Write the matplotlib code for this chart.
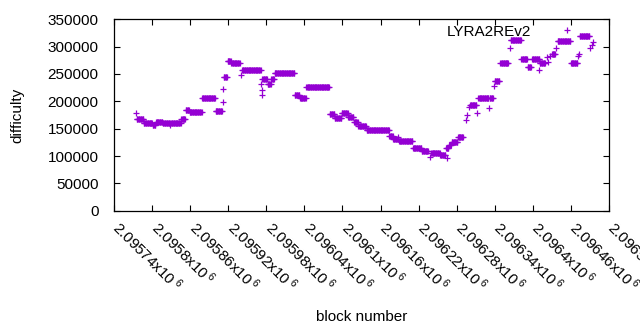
import numpy as np
import matplotlib
matplotlib.use("Agg")
import matplotlib.pyplot as plt
from matplotlib.transforms import ScaledTranslation

plt.rcParams['font.family'] = ['Liberation Sans', 'DejaVu Sans']
plt.rcParams['mathtext.default'] = 'regular'

# runs of constant difficulty: [start, end) block, difficulty
run_start = [2095776, 2095787, 2095801, 2095806, 2095817, 2095830, 2095846, 2095853,
             2095859, 2095879, 2095900, 2095913, 2095919, 2095925, 2095942, 2095974,
             2095982, 2095988, 2095993, 2096025, 2096033, 2096043, 2096080, 2096088,
             2096099, 2096109, 2096118, 2096125, 2096138, 2096174, 2096180, 2096189,
             2096211, 2096225, 2096240, 2096254, 2096263, 2096268, 2096272, 2096282,
             2096301, 2096314, 2096332, 2096340, 2096349, 2096365, 2096382, 2096392,
             2096399, 2096411, 2096430, 2096439, 2096460, 2096474]
run_end = [2095787, 2095801, 2095806, 2095817, 2095829, 2095846, 2095853, 2095859,
           2095879, 2095900, 2095911, 2095919, 2095925, 2095939, 2095972, 2095982,
           2095988, 2095993, 2096025, 2096033, 2096043, 2096080, 2096088, 2096099,
           2096109, 2096118, 2096125, 2096138, 2096174, 2096180, 2096189, 2096211,
           2096225, 2096236, 2096254, 2096263, 2096268, 2096272, 2096282, 2096291,
           2096312, 2096331, 2096338, 2096348, 2096362, 2096382, 2096392, 2096398,
           2096411, 2096420, 2096436, 2096460, 2096471, 2096490]
run_diff = [167000, 161000, 157000, 163000, 161000, 161000, 168000, 185000,
            181000, 206000, 182000, 245000, 274000, 270000, 257000, 241000,
            232000, 241000, 251000, 211000, 207000, 226000, 176000, 170000,
            178000, 172000, 163000, 154000, 148000, 136000, 131000, 127000,
            114000, 109000, 106000, 101000, 115000, 120000, 126000, 134000,
            193000, 207000, 206000, 238000, 271000, 312000, 278000, 263000,
            278000, 271000, 287000, 310000, 270000, 319000]

# isolated blocks
single_block = [2095775, 2095829, 2095911, 2095912, 2095940, 2095972, 2095973, 2095973,
                2096188, 2096238, 2096264, 2096294, 2096297, 2096300, 2096312, 2096331,
                2096339, 2096364, 2096410, 2096422, 2096424, 2096427, 2096437, 2096471,
                2096472, 2096490, 2096493, 2096495]
single_diff = [179000, 157000, 198000, 222000, 248000, 231000, 221000, 212000,
               135000, 99000, 96000, 165000, 175000, 190000, 179000, 187000,
               228000, 297000, 257000, 281000, 272000, 283000, 298000, 282000,
               286000, 297000, 303000, 308000]

xticks = np.arange(2095740, 2096521, 60)
yticks = np.arange(0, 350001, 50000)

blocks = np.concatenate([np.arange(s, e) for s, e in zip(run_start, run_end)] + [single_block])
diffs = np.concatenate([np.full(e - s, d) for s, e, d in zip(run_start, run_end, run_diff)] + [single_diff])

fig = plt.figure(figsize=(6.4, 3.3), dpi=100)
ax = fig.add_axes([114 / 640, 1 - 210.7 / 330, (609 - 114) / 640, (210.7 - 19.3) / 330])

ax.plot(blocks, diffs, '+', color='#9400D3', markersize=5, markeredgewidth=0.9,
        label='LYRA2REv2')

ax.set_xlim(2095740, 2096520)
ax.set_ylim(0, 350000)
ax.set_yticks(yticks)
ax.set_yticklabels([str(v) for v in yticks])
ax.set_xticks(xticks)
ax.set_xticklabels([r'%gx10$\,^{6}$' % (v / 1e6) for v in xticks],
                   rotation=-45, ha='left', va='center', rotation_mode='anchor')

ax.tick_params(direction='in', length=4, width=0.8, top=True, right=True,
               labelsize=11, colors='black')
ax.tick_params(axis='y', pad=11)
ax.tick_params(axis='x', pad=10)
shift = ScaledTranslation(2 / 100, 0, fig.dpi_scale_trans)
for lab in ax.get_xticklabels():
    lab.set_transform(lab.get_transform() + shift)
for sp in ax.spines.values():
    sp.set_linewidth(0.9)

ax.set_xlabel('block number', fontsize=11, labelpad=11)
ax.set_ylabel('difficulty', fontsize=11, labelpad=17)

ax.legend(loc='upper right', bbox_to_anchor=(0.9467, 0.972), frameon=False,
          markerfirst=False, handlelength=2.0, handletextpad=1.35,
          borderaxespad=0, borderpad=0, fontsize=11)

fig.savefig('out.png', dpi=100)
